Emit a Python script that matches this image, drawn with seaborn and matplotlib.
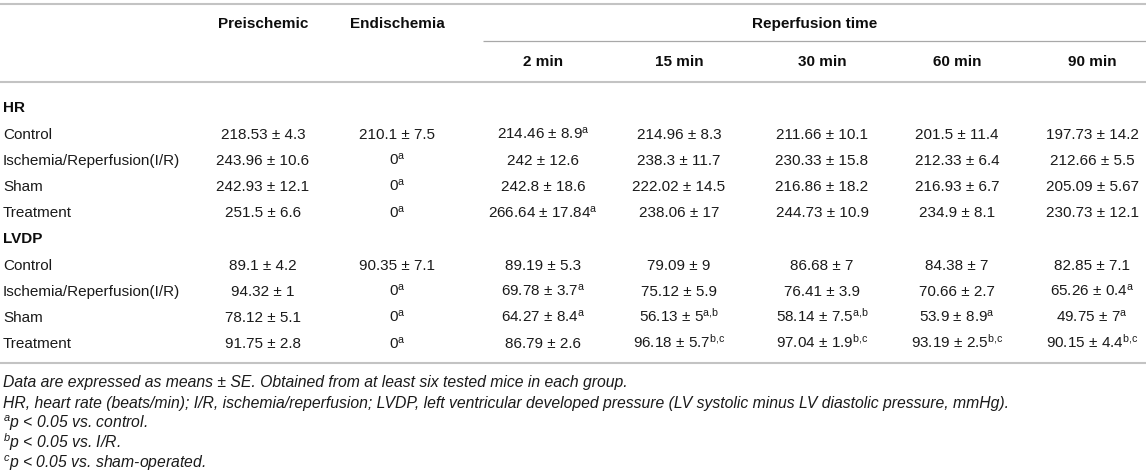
import matplotlib
matplotlib.use("Agg")
import matplotlib.pyplot as plt
import seaborn as sns

# ---------------- data ----------------
sections = ["HR", "LVDP"]
groups = ["Control", "Ischemia/Reperfusion(I/R)", "Sham", "Treatment"]
phase_labels = ["Preischemic", "Endischemia"]
span_label = "Reperfusion time"
reperf_times = ["2 min", "15 min", "30 min", "60 min", "90 min"]

hr_mean = [
    [218.53, 210.1, 214.46, 214.96, 211.66, 201.5, 197.73],
    [243.96, 0, 242, 238.3, 230.33, 212.33, 212.66],
    [242.93, 0, 242.8, 222.02, 216.86, 216.93, 205.09],
    [251.5, 0, 266.64, 238.06, 244.73, 234.9, 230.73],
]
hr_se = [
    [4.3, 7.5, 8.9, 8.3, 10.1, 11.4, 14.2],
    [10.6, None, 12.6, 11.7, 15.8, 6.4, 5.5],
    [12.1, None, 18.6, 14.5, 18.2, 6.7, 5.67],
    [6.6, None, 17.84, 17, 10.9, 8.1, 12.1],
]
hr_sig = [
    ["", "", "a", "", "", "", ""],
    ["", "a", "", "", "", "", ""],
    ["", "a", "", "", "", "", ""],
    ["", "a", "a", "", "", "", ""],
]

lvdp_mean = [
    [89.1, 90.35, 89.19, 79.09, 86.68, 84.38, 82.85],
    [94.32, 0, 69.78, 75.12, 76.41, 70.66, 65.26],
    [78.12, 0, 64.27, 56.13, 58.14, 53.9, 49.75],
    [91.75, 0, 86.79, 96.18, 97.04, 93.19, 90.15],
]
lvdp_se = [
    [4.2, 7.1, 5.3, 9, 7, 7, 7.1],
    [1, None, 3.7, 5.9, 3.9, 2.7, 0.4],
    [5.1, None, 8.4, 5, 7.5, 8.9, 7],
    [2.8, None, 2.6, 5.7, 1.9, 2.5, 4.4],
]
lvdp_sig = [
    ["", "", "", "", "", "", ""],
    ["", "a", "a", "", "", "", "a"],
    ["", "a", "a", "a,b", "a,b", "a", "a"],
    ["", "a", "", "b,c", "b,c", "b,c", "b,c"],
]

footnotes = [
    ("", "Data are expressed as means ± SE. Obtained from at least six tested mice in each group."),
    ("", "HR, heart rate (beats/min); I/R, ischemia/reperfusion; LVDP, left ventricular developed pressure (LV systolic minus LV diastolic pressure, mmHg)."),
    ("a", "p < 0.05 vs. control."),
    ("b", "p < 0.05 vs. I/R."),
    ("c", "p < 0.05 vs. sham-operated."),
]

# ---------------- style ----------------
sns.set_theme(style="white")
plt.rcParams["font.family"] = ["Liberation Sans", "DejaVu Sans"]
plt.rcParams["mathtext.fontset"] = "custom"
plt.rcParams["mathtext.rm"] = "Liberation Sans"
plt.rcParams["mathtext.it"] = "Liberation Sans:italic"
plt.rcParams["mathtext.bf"] = "Liberation Sans:bold"

W, H = 1146, 473
fig = plt.figure(figsize=(W / 100, H / 100), dpi=100)
ax = fig.add_axes([0, 0, 1, 1])
ax.set_xlim(0, W)
ax.set_ylim(H, 0)
ax.axis("off")

FS = 11.0
FS_FOOT = 11.3
TXT = "#1a1a1a"
HEAD = "#0d0d0d"
LINE = "#c3c3c3"
BASE = 5.4  # offset from visual centre to baseline (px)

label_x = 3
col_x = [263, 397, 543, 679, 822, 957, 1092]
span_x0 = 483

y_top, y_h1, y_part, y_h2, y_hline = 4, 23, 41, 61, 82
y_first = 107
row_step = 26.2
y_bottom = 363
foot_y0, foot_step = 382, 20.2


def sup_text(sig, font="mathrm"):
    if not sig:
        return ""
    body = sig.replace(",", r"{,}")
    return r"$^{\%s{%s}}$" % (font, body)


def cell(m, s, sig):
    txt = f"{m:g}" if s is None else f"{m:g} ± {s:g}"
    return txt + sup_text(sig)


# rules
ax.hlines([y_top, y_hline, y_bottom], 0, W, color=LINE, lw=1.5)
ax.hlines(y_part, span_x0, W, color="#a8a8a8", lw=0.9)

# header
for x, lab in zip(col_x[:2], phase_labels):
    ax.text(x, y_h1 + BASE, lab, ha="center", va="baseline", fontsize=FS,
            fontweight="bold", color=HEAD)
ax.text((span_x0 + W) / 2, y_h1 + BASE, span_label, ha="center", va="baseline",
        fontsize=FS, fontweight="bold", color=HEAD)
for x, lab in zip(col_x[2:], reperf_times):
    ax.text(x, y_h2 + BASE, lab, ha="center", va="baseline", fontsize=FS,
            fontweight="bold", color=HEAD)

# body
blocks = [(hr_mean, hr_se, hr_sig), (lvdp_mean, lvdp_se, lvdp_sig)]
r = 0
for sec, (means, ses, sigs) in zip(sections, blocks):
    y = y_first + r * row_step
    ax.text(label_x, y + BASE, sec, ha="left", va="baseline", fontsize=FS,
            fontweight="bold", color=HEAD)
    r += 1
    for g, mrow, srow, grow in zip(groups, means, ses, sigs):
        y = y_first + r * row_step
        ax.text(label_x, y + BASE, g, ha="left", va="baseline", fontsize=FS, color=TXT)
        for x, m, s, sg in zip(col_x, mrow, srow, grow):
            ax.text(x, y + BASE, cell(m, s, sg), ha="center", va="baseline",
                    fontsize=FS, color=TXT)
        r += 1

# footnotes
for i, (sup, txt) in enumerate(footnotes):
    y = foot_y0 + i * foot_step
    s = sup_text(sup, "mathit") + txt
    ax.text(label_x, y + BASE, s, ha="left", va="baseline", fontsize=FS_FOOT,
            style="italic", color=TXT)

fig.savefig("out.png", dpi=100)
